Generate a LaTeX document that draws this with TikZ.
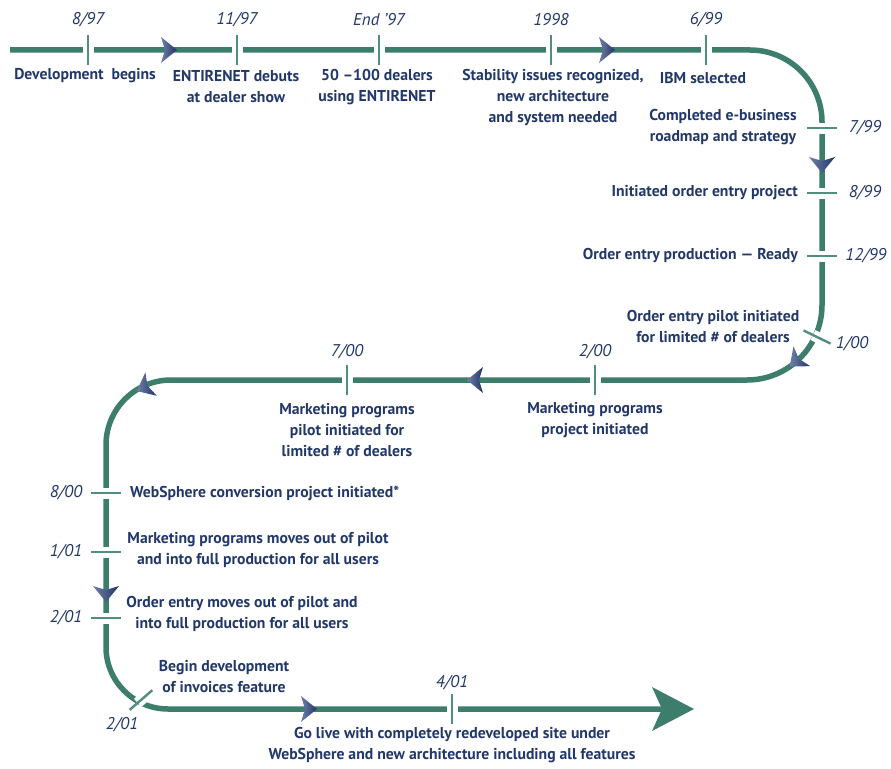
\documentclass[tikz,border=0pt]{standalone}
\usepackage{fontspec}
\setmainfont{PT Sans}
\definecolor{teal1}{HTML}{3C7D6C}
\definecolor{tick1}{HTML}{4F8F7C}
\definecolor{navy}{HTML}{22386A}
\definecolor{chevL}{HTML}{7080A8}
\definecolor{chevR}{HTML}{1F3366}
\newcommand\lblfont{\fontsize{15.7}{21}\selectfont\bfseries}
\newcommand\datefont{\fontsize{17}{20}\selectfont\itshape}
\newcommand\tickat[3]{\begin{scope}[shift={(#1,#2)},rotate=#3]
  \draw[gapline] (-4.5,0) -- (4.5,0);
  \draw[tk] (-15,0) -- (15,0);
\end{scope}}
\newcommand\chev[3]{\begin{scope}[shift={(#1,#2)},rotate=#3]
  \shade[left color=chevL, right color=chevR] (-9,-13) -- (7,0) -- (-9,13) -- (-5,0) -- cycle;
\end{scope}}
\tikzset{
  tl/.style={line width=5.5pt, draw=teal1, line join=round},
  tk/.style={line width=2.4pt, draw=tick1},
  gapline/.style={line width=11pt, draw=white},
  lbl/.style={font=\lblfont, text=navy, align=center, inner sep=0pt},
  dt/.style={font=\datefont, text=navy, inner sep=0pt},
}
\begin{document}
\begin{tikzpicture}[x=1pt,y=-1pt]
\useasboundingbox[fill=white] (0,0) rectangle (891,768);
% main path
\draw[tl] (10,50) -- (750,50) arc[start angle=90, end angle=0, radius=72pt]
  -- (822,305) arc[start angle=0, end angle=-90, radius=75pt]
  -- (171,380) arc[start angle=90, end angle=180, radius=65pt]
  -- (106,647) arc[start angle=180, end angle=270, radius=62pt]
  -- (662,709);
\fill[teal1] (652,687) -- (694,709) -- (652,731) -- (662,709) -- cycle;
% ticks
\tickat{88}{50}{90}
\tickat{237}{50}{90}
\tickat{379}{50}{90}
\tickat{551}{50}{90}
\tickat{706}{50}{90}
\tickat{822}{128}{0}
\tickat{822}{193}{0}
\tickat{822}{256}{0}
\tickat{817}{337}{-26}
\tickat{595}{380}{90}
\tickat{347}{380}{90}
\tickat{106}{493}{0}
\tickat{106}{552}{0}
\tickat{106}{618}{0}
\tickat{141}{700}{41}
\tickat{452}{709}{90}
% chevrons
\chev{170}{50}{0}
\chev{608}{50}{0}
\chev{822}{166}{-90}
\chev{795}{362}{220}
\chev{474}{380}{180}
\chev{143}{388}{206}
\chev{106}{595}{-90}
\chev{310}{709}{0}
% dates
\node[dt] (d1) at (88,20) {8/97};
\node[dt] (d2) at (237,20) {11/97};
\node[dt] (d3) at (379,20) {End '97};
\node[dt] (d4) at (551,20) {1998};
\node[dt] (d5) at (706,20) {6/99};
\node[dt] (d6) at (865,128) {7/99};
\node[dt] (d7) at (865,193) {8/99};
\node[dt] (d8) at (866,256) {12/99};
\node[dt] (d9) at (852,344) {1/00};
\node[dt] (d10) at (595,352) {2/00};
\node[dt] (d11) at (347,352) {7/00};
\node[dt] (d12) at (66,493) {8/00};
\node[dt] (d13) at (66,552) {1/01};
\node[dt] (d14) at (66,618) {2/01};
\node[dt] (d15) at (122,725) {2/01};
\node[dt] (d16) at (452,683) {4/01};
% labels
\node[lbl] (l1) at (85,76) {Development\hspace{0.25em} begins};
\node[lbl] (l2) at (236,87) {ENTIRENET debuts\\at dealer show};
\node[lbl] (l3) at (377,87) {50 –100 dealers\\using ENTIRENET};
\node[lbl] (l4) at (553,98) {Stability issues recognized,\\new architecture\\and system needed};
\node[lbl] (l5) at (703,78) {IBM selected};
\node[lbl] (l6) at (723,127) {Completed e-business\\roadmap and strategy};
\node[lbl,anchor=east] (l7) at (798,193) {Initiated order entry project};
\node[lbl,anchor=east] (l8) at (798,256) {Order entry production — Ready};
\node[lbl] (l9) at (713,327) {Order entry pilot initiated\\for limited \# of dealers};
\node[lbl] (l10) at (595,420) {Marketing programs\\project initiated};
\node[lbl] (l11) at (347,430) {Marketing programs\\pilot initiated for\\limited \# of dealers};
\node[lbl,anchor=west] (l12) at (130,493) {WebSphere conversion project initiated*};
\node[lbl] (l13) at (258,550) {Marketing programs moves out of pilot\\and into full production for all users};
\node[lbl] (l14) at (242,614) {Order entry moves out of pilot and\\into full production for all users};
\node[lbl] (l15) at (224,677) {Begin development\\of invoices feature};
\node[lbl] (l16) at (452,745) {Go live with completely redeveloped site under\\WebSphere and new architecture including all features};
\end{tikzpicture}
\end{document}
